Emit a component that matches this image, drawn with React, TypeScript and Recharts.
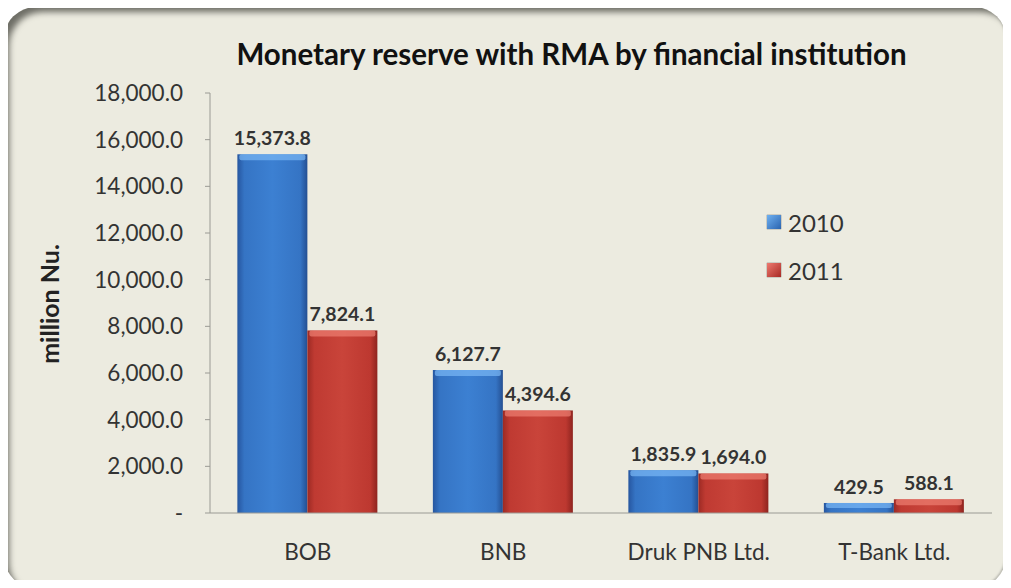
import React from "react";
import { BarChart, Bar, XAxis, YAxis, LabelList } from "recharts";

const categories = ["BOB", "BNB", "Druk PNB Ltd.", "T-Bank Ltd."];
const values2010 = [15373.8, 6127.7, 1835.9, 429.5];
const values2011 = [7824.1, 4394.6, 1694.0, 588.1];
const yTicks = [0, 2000, 4000, 6000, 8000, 10000, 12000, 14000, 16000, 18000];
const seriesNames = ["2010", "2011"];

const data = categories.map((c, i) => ({ name: c, y2010: values2010[i], y2011: values2011[i] }));

const FONT = "Lato, 'Open Sans', sans-serif";
const fmt = (v: number) =>
  v.toLocaleString("en-US", { minimumFractionDigits: 1, maximumFractionDigits: 1 });

const makeShape = (id: string, hi: string) => (props: any) => {
  const { x, y, width, height } = props;
  if (!height || height <= 0) return null;
  const h = Math.min(6, height / 2);
  return (
    <g>
      <rect x={x} y={y} width={width} height={height} fill={`url(#${id})`} />
      <rect x={x + 2} y={y} width={width - 4} height={h} fill={hi} opacity={0.7} rx={2} />
    </g>
  );
};

const LegendBox = () => (
  <div style={{ position: "absolute", left: 767, top: 198, fontFamily: FONT, fontSize: 24, color: "#333" }}>
    {seriesNames.map((n, i) => (
      <div key={n} style={{ display: "flex", alignItems: "center", height: 48 }}>
        <div
          style={{
            width: 14,
            height: 14,
            marginRight: 7,
            background:
              i === 0
                ? "linear-gradient(135deg,#6fb0f0,#2a64b0)"
                : "linear-gradient(135deg,#ee7a70,#a82a25)",
            boxShadow: "0 0 1px #333",
          }}
        />
        <span>{n}</span>
      </div>
    ))}
  </div>
);

export default function App() {
  return (
    <div style={{ position: "relative", width: 1011, height: 588, margin: -8, background: "#fff" }}>
      <div
        style={{
          position: "absolute",
          left: 4,
          top: 7,
          width: 1002,
          height: 581,
          borderRadius: 32,
          background: "#ecebe0",
          boxShadow: "inset 7px 7px 6px -2px #6e6e66, inset -1px -1px 2px #b8b8b0",
        }}
      />
      <div
        style={{
          position: "absolute",
          left: 0,
          width: 1011,
          top: 36,
          paddingLeft: 132,
          boxSizing: "border-box",
          textAlign: "center",
          fontFamily: FONT,
          fontWeight: 700,
          fontSize: 29.5,
          color: "#111",
        }}
      >
        Monetary reserve with RMA by financial institution
      </div>
      <div
        style={{
          position: "absolute",
          left: 49,
          top: 304,
          transform: "translate(-50%, -50%) rotate(-90deg)",
          fontFamily: FONT,
          fontWeight: 700,
          fontSize: 25,
          color: "#222",
          whiteSpace: "nowrap",
        }}
      >
        million Nu.
      </div>
      <div style={{ position: "absolute", left: 0, top: 0 }}>
        <BarChart
          width={1011}
          height={588}
          data={data}
          margin={{ top: 93, right: 19, bottom: 45, left: 110 }}
          barCategoryGap="14%"
          barGap={0}
        >
          <defs>
            <linearGradient id="gBlue" x1="0" y1="0" x2="1" y2="0">
              <stop offset="0%" stopColor="#2656a0" />
              <stop offset="10%" stopColor="#3574c4" />
              <stop offset="50%" stopColor="#3c80d2" />
              <stop offset="90%" stopColor="#3574c4" />
              <stop offset="100%" stopColor="#244f92" />
            </linearGradient>
            <linearGradient id="gRed" x1="0" y1="0" x2="1" y2="0">
              <stop offset="0%" stopColor="#9c2a24" />
              <stop offset="10%" stopColor="#bf3a32" />
              <stop offset="50%" stopColor="#c9443a" />
              <stop offset="90%" stopColor="#bd3830" />
              <stop offset="100%" stopColor="#8e241f" />
            </linearGradient>
          </defs>
          <XAxis
            dataKey="name"
            height={30}
            tickLine={false}
            axisLine={{ stroke: "#9a9a94" }}
            tickMargin={25}
            tick={{ fontFamily: FONT, fontSize: 22.5, fill: "#333" }}
          />
          <YAxis
            width={100}
            domain={[0, 18000]}
            ticks={yTicks}
            interval={0}
            tickSize={5}
            tickMargin={22}
            axisLine={{ stroke: "#9a9a94" }}
            tickLine={{ stroke: "#9a9a94" }}
            tickFormatter={(v: number) => (v === 0 ? "-" : fmt(v))}
            tick={{ fontFamily: FONT, fontSize: 22.5, fill: "#333" }}
          />
          <Bar dataKey="y2010" name="2010" fill="#3a7cc9" isAnimationActive={false} shape={makeShape("gBlue", "#7ab8f5")}>
            <LabelList
              dataKey="y2010"
              position="top"
              offset={9}
              formatter={(v: any) => fmt(Number(v))}
              style={{ fontFamily: FONT, fontSize: 19.5, fontWeight: 700, fill: "#333" }}
            />
          </Bar>
          <Bar dataKey="y2011" name="2011" fill="#c23a33" isAnimationActive={false} shape={makeShape("gRed", "#ee7f72")}>
            <LabelList
              dataKey="y2011"
              position="top"
              offset={9}
              formatter={(v: any) => fmt(Number(v))}
              style={{ fontFamily: FONT, fontSize: 19.5, fontWeight: 700, fill: "#333" }}
            />
          </Bar>
        </BarChart>
      </div>
      <LegendBox />
    </div>
  );
}
